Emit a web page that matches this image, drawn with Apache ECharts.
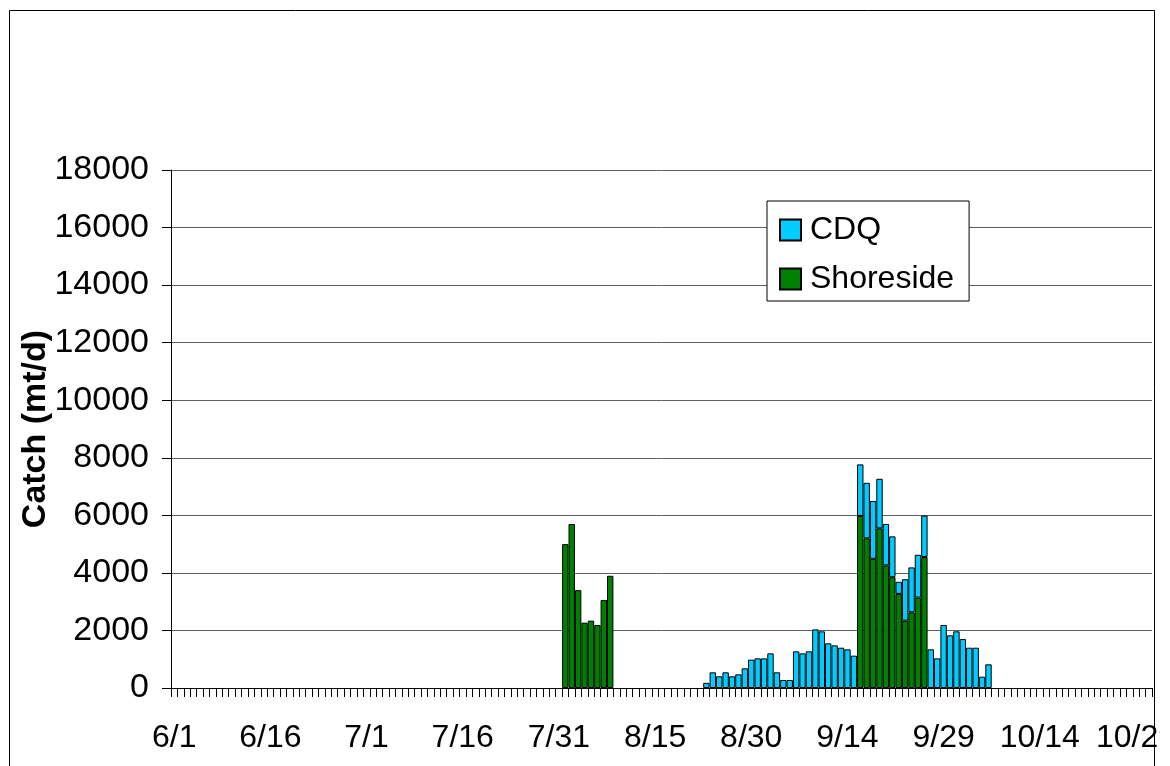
<!DOCTYPE html>
<html>
<head>
<meta charset="utf-8">
<script src="https://cdn.jsdelivr.net/npm/echarts@6/dist/echarts.min.js"></script>
<style>
  html, body { margin: 0; padding: 0; background: #fff; }
  #chart { width: 1160px; height: 766px; }
</style>
</head>
<body>
<div id="chart"></div>
<script>
// daily catch, mt/d, season 6/1 - 10/31
var seasonStart = new Date(2000, 5, 1);
var seasonDays = 153;

// shoreside, 8/1 - 8/8
var shoreAugStart = '8/1';
var shoreAug = [5000, 5700, 3400, 2270, 2340, 2190, 3060, 3900];
// shoreside, 9/16 - 9/26
var shoreSepStart = '9/16';
var shoreSep = [5980, 5200, 4490, 5550, 4260, 3850, 3270, 2340, 2630, 3140, 4550];

// CDQ, 8/23 - 10/6
var cdqStart = '8/23';
var cdq = [180, 545, 406, 545, 406, 475, 684, 985, 1030, 1030, 1204, 545,
  278, 278, 1274, 1204, 1274, 2037, 1968, 1552, 1482, 1400, 1343, 1123,
  1790, 1930, 2010, 1720, 1440, 1420, 420, 1440, 1560, 1490, 1440,
  1343, 1030, 2190, 1830, 1970, 1700, 1400, 1400, 393, 823];

var yTicks = { min: 0, max: 18000, step: 2000 };

var days = [];
for (var i = 0; i < seasonDays; i++) {
  var d = new Date(seasonStart.getTime());
  d.setDate(d.getDate() + i);
  days.push((d.getMonth() + 1) + '/' + d.getDate());
}

function place(startLabel, values) {
  var out = days.map(function () { return null; });
  var k = days.indexOf(startLabel);
  values.forEach(function (v, j) { out[k + j] = v; });
  return out;
}

var shoreData = place(shoreAugStart, shoreAug);
place(shoreSepStart, shoreSep).forEach(function (v, i) { if (v !== null) shoreData[i] = v; });
var cdqData = place(cdqStart, cdq);

var font = 'Liberation Sans, Arial, sans-serif';
var chart = echarts.init(document.getElementById('chart'));

var option = {
  backgroundColor: '#fff',
  animation: false,
  textStyle: { fontFamily: font },
  grid: {
    left: 171,
    top: 170,
    width: 981,
    height: 518,
    containLabel: false,
    outerBoundsMode: 'none'
  },
  legend: {
    data: ['CDQ', 'Shoreside'],
    orient: 'vertical',
    left: 767,
    top: 201,
    padding: [13, 15, 6, 12],
    itemGap: 17,
    itemWidth: 21,
    itemHeight: 21,
    icon: 'rect',
    backgroundColor: '#fff',
    borderColor: '#000',
    borderWidth: 1,
    textStyle: { fontSize: 32, color: '#000', lineHeight: 32, padding: [0, 0, 0, 4], fontFamily: font }
  },
  xAxis: {
    type: 'category',
    data: days,
    boundaryGap: true,
    axisLine: { show: true, lineStyle: { color: '#000', width: 1 } },
    axisTick: { show: true, interval: 0, length: 9, lineStyle: { color: '#000' } },
    axisLabel: {
      interval: 14,
      fontSize: 32,
      color: '#000',
      margin: 34,
      fontFamily: font
    },
    splitLine: { show: false }
  },
  yAxis: {
    type: 'value',
    min: yTicks.min,
    max: yTicks.max,
    interval: yTicks.step,
    name: 'Catch (mt/d)',
    nameLocation: 'middle',
    nameRotate: 90,
    nameGap: 118,
    nameMoveOverlap: false,
    nameTextStyle: { fontSize: 34, fontWeight: 'bold', color: '#000', fontFamily: font },
    axisLine: { show: true, lineStyle: { color: '#000', width: 1 } },
    axisTick: { show: true, length: 9, lineStyle: { color: '#000' } },
    axisLabel: {
      fontSize: 34, color: '#000', margin: 22, fontFamily: font,
      formatter: function (v) { return String(v); }
    },
    splitLine: { lineStyle: { color: '#606060', width: 1 } }
  },
  series: [{
    name: 'Shoreside',
    type: 'bar',
    stack: 'catch',
    data: shoreData,
    barWidth: '100%',
    barCategoryGap: '0%',
    itemStyle: { color: '#008000', borderColor: '#000', borderWidth: 1 }
  }, {
    name: 'CDQ',
    type: 'bar',
    stack: 'catch',
    data: cdqData,
    barWidth: '100%',
    barCategoryGap: '0%',
    itemStyle: { color: '#00CCFF', borderColor: '#000', borderWidth: 1 }
  }],
  graphic: [{
    type: 'rect',
    left: 7,
    top: 8,
    shape: { width: 1145, height: 800 },
    style: { fill: 'none', stroke: '#000', lineWidth: 1 },
    silent: true
  }]
};
chart.setOption(option);
</script>
</body>
</html>
